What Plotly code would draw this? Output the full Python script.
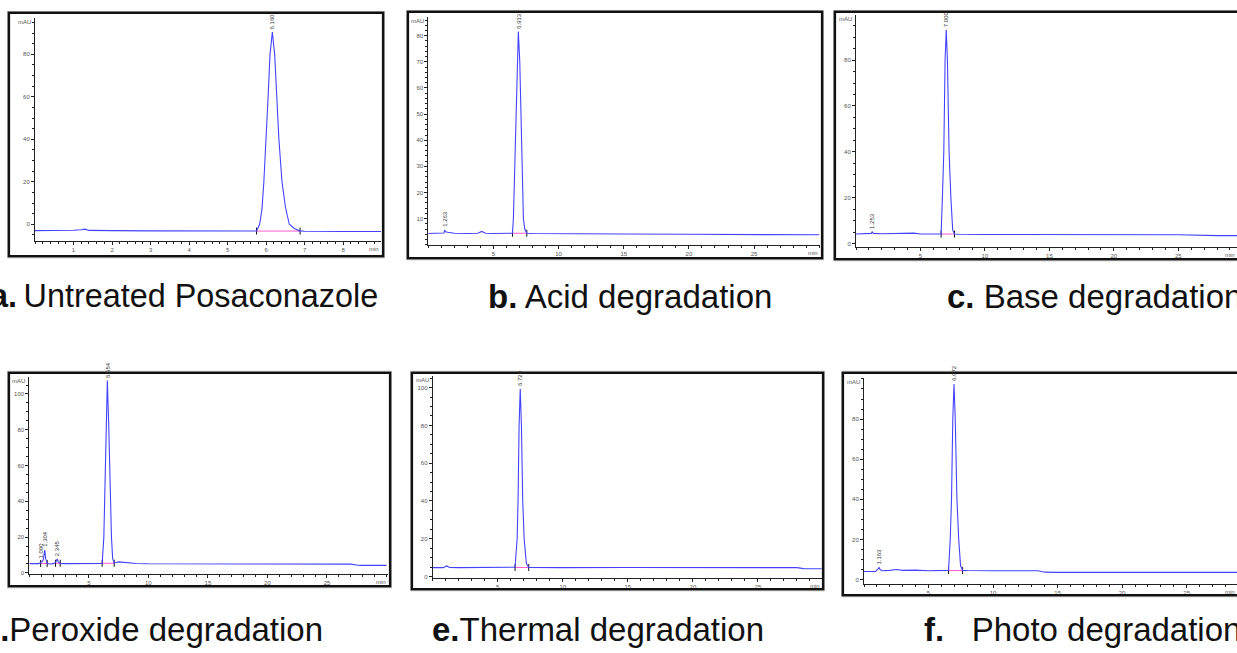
import plotly.graph_objects as go

W, H = 1237, 653

# ---------------- data ----------------
# a. Untreated Posaconazole
a_t = [0, 0.8, 1.0, 1.2, 1.3, 1.4, 1.6, 2.0, 3.0, 4.0, 5.0, 5.6, 5.75, 5.83, 5.89, 5.94, 6.0, 6.05, 6.10,
       6.16, 6.22, 6.27, 6.33, 6.41, 6.5, 6.6, 6.73, 6.87, 7.0, 8.0, 9.0]
a_y = [-3.0, -3.0, -2.8, -2.6, -2.3, -2.9, -3.0, -3.0, -3.1, -3.2, -3.3, -3.3, -3.2, 0, 7, 20, 40, 60, 80,
       90.5, 80, 60, 40, 20, 8, 0, -2, -3.1, -3.3, -3.4, -3.4]
# b. Acid degradation
b_t = [0, 1.0, 1.2, 1.26, 1.32, 1.5, 2.0, 3.0, 3.8, 4.1, 4.4, 5.0, 6.0, 6.46, 6.53, 6.6, 6.69, 6.82, 6.91,
       7.02, 7.15, 7.3, 7.4, 7.56, 8.0, 10, 15, 20, 25, 27, 28, 30]
b_y = [4.3, 4.3, 4.5, 5.6, 5.0, 4.8, 4.4, 4.3, 4.4, 5.1, 4.4, 4.3, 4.3, 4.4, 10, 24, 40, 70, 81.6,
       70, 40, 10, 6, 4.4, 4.3, 4.2, 4.1, 4.0, 4.0, 3.8, 3.8, 3.8]
# c. Base degradation
c_t = [0, 1.0, 1.2, 1.25, 1.35, 2, 3, 4, 4.5, 5, 6, 6.6, 6.7, 6.81, 6.91, 7.0, 7.09, 7.22, 7.36, 7.5, 7.64,
       8, 10, 15, 20, 25, 28, 29.6]
c_y = [4.3, 4.3, 4.6, 5.3, 4.6, 4.4, 4.6, 4.8, 4.7, 4.3, 4.2, 4.3, 20, 40, 80, 93.1, 80, 40, 20, 6, 4.3,
       4.2, 4.1, 4.1, 4.1, 4.0, 3.6, 3.6]
# d. Peroxide degradation
d_t = [0, 0.8, 0.95, 1.09, 1.18, 1.30, 1.38, 1.5, 1.7, 2.0, 2.2, 2.345, 2.45, 2.6, 3.0, 4, 5, 6.0, 6.12,
       6.26, 6.34, 6.45, 6.554, 6.68, 6.79, 6.9, 7.0, 7.13, 7.5, 8, 9, 10, 15, 20, 25, 27, 27.6, 28, 30]
d_y = [5.2, 5.2, 5.8, 6.5, 7.5, 12.8, 8, 5.4, 5.0, 5.2, 5.8, 7.8, 6.0, 5.3, 5.2, 5.1, 5.0, 5.0, 5.3,
       20, 40, 80, 107.5, 80, 40, 20, 8, 5.6, 6.2, 5.8, 5.3, 5.1, 5.0, 5.0, 5.0, 4.9, 4.3, 4.2, 4.2]
# e. Thermal degradation
e_t = [0, 0.8, 1.07, 1.3, 2, 4, 6, 6.33, 6.49, 6.56, 6.64, 6.729, 6.82, 6.92, 7.03, 7.2, 7.38, 8, 10,
       15, 20, 25, 28, 28.5, 30]
e_y = [4.7, 4.7, 5.6, 4.8, 4.7, 4.7, 4.7, 4.9, 20, 40, 80, 99.4, 80, 40, 20, 7, 4.8, 4.7, 4.7,
       4.8, 4.8, 4.8, 4.7, 4.2, 4.1]
# f. Photo degradation
f_t = [0, 0.9, 1.1, 1.163, 1.25, 1.4, 2, 2.5, 3, 4, 5, 6, 6.55, 6.68, 6.78, 6.88, 6.972, 7.07, 7.2, 7.34,
       7.48, 7.64, 8, 10, 13.5, 14, 15, 20, 25, 29]
f_y = [4.0, 4.1, 5.5, 6.0, 5.0, 4.4, 4.6, 5.0, 4.6, 4.7, 4.4, 4.4, 4.6, 20, 40, 80, 97.5, 80, 40, 20,
       7, 4.6, 4.5, 4.4, 4.4, 3.7, 3.6, 3.6, 3.6, 3.6]

# integration baselines (start, end, level)
a_base = [(5.75, 6.88, -3.2)]
b_base = [(6.46, 7.56, 4.4)]
c_base = [(6.6, 7.64, 4.3)]
d_base = [(0.95, 1.5, 5.3), (2.2, 2.6, 5.4), (6.12, 7.13, 5.4)]
e_base = [(6.33, 7.38, 4.8)]
f_base = [(6.55, 7.64, 4.5)]

# peak labels (retention time, apex)
a_peaks = [("6.160", 6.16, 90.5)]
b_peaks = [("1.263", 1.26, 5.6), ("6.913", 6.91, 81.6)]
c_peaks = [("1.253", 1.25, 5.3), ("7.000", 7.0, 93.1)]
d_peaks = [("1.090", 1.0, 6.5), ("1.304", 1.30, 12.8), ("2.345", 2.345, 7.8), ("6.554", 6.554, 107.5)]
e_peaks = [("6.729", 6.729, 99.4)]
f_peaks = [("1.163", 1.163, 6.0), ("6.972", 6.972, 97.5)]

titles = ["<b>a.</b>\u2009Untreated Posaconazole", "<b>b.</b> Acid degradation", "<b>c.</b> Base degradation",
          "<b>d.</b>Peroxide degradation", "<b>e.</b>Thermal degradation",
          "<b>f.</b>\u00a0\u00a0\u00a0Photo degradation"]
title_sizes = [32.4, 33, 33, 33, 33, 33]

# ---------------- layout geometry (pixels) ----------------
panels = [
    dict(t=a_t, y=a_y, base=a_base, peaks=a_peaks, box=(35, 381, 18.3, 242), xr=[0, 8.98], yr=[-8.0, 97.0],
         xt=list(range(1, 9)), xm=0.2, yt=[0, 20, 40, 60, 80], ym=5, frame=(9, 13, 383, 257)),
    dict(t=b_t, y=b_y, base=b_base, peaks=b_peaks, box=(428.3, 820, 16.7, 245.5), xr=[0, 30.06], yr=[0, 87.3],
         xt=[5, 10, 15, 20, 25], xm=1, yt=[10, 20, 30, 40, 50, 60, 70, 80], ym=2, frame=(408, 12, 822, 259)),
    dict(t=c_t, y=c_y, base=c_base, peaks=c_peaks, box=(856, 1237, 15, 247.3), xr=[0, 29.55], yr=[-1.13, 99.6],
         xt=[5, 10, 15, 20, 25], xm=1, yt=[0, 20, 40, 60, 80], ym=5, frame=(835, 12, 1250, 260)),
    dict(t=d_t, y=d_y, base=d_base, peaks=d_peaks, box=(29.3, 387.7, 378.3, 575.7), xr=[0, 30.1], yr=[-0.56, 109.4],
         xt=[5, 10, 15, 20, 25], xm=1, yt=[0, 20, 40, 60, 80, 100], ym=5, frame=(9, 374, 390, 588)),
    dict(t=e_t, y=e_y, base=e_base, peaks=e_peaks, box=(432.7, 821.7, 376.7, 579.3), xr=[0, 29.9], yr=[-0.53, 106.4],
         xt=[5, 10, 15, 20, 25], xm=1, yt=[0, 20, 40, 60, 80, 100], ym=5, frame=(412, 374, 823, 591)),
    dict(t=f_t, y=f_y, base=f_base, peaks=f_peaks, box=(864, 1237, 379.3, 586), xr=[0, 28.9], yr=[-2.3, 100.4],
         xt=[5, 10, 15, 20, 25], xm=1, yt=[0, 20, 40, 60, 80], ym=5, frame=(843, 374, 1250, 597)),
]

# title placement: (x px, anchor, y px center)
title_pos = [(380, "right", 297), (486, "left", 297), (945, "left", 297),
             (325, "right", 631), (430, "left", 631), (922, "left", 631)]


def px(x):
    return x / W


def py(y):
    return 1 - y / H


LINE = "#4343ff"
PINK = "#ff5acd"
TICKF = dict(family="Liberation Sans, Arial, sans-serif", size=6, color="#555555")

fig = go.Figure()
layout = dict(width=W, height=H, margin=dict(l=0, r=0, t=0, b=0), paper_bgcolor="white",
              plot_bgcolor="white", showlegend=False)
annotations = []
shapes = []

for i, p in enumerate(panels):
    n = "" if i == 0 else str(i + 1)
    xa, ya = "x" + n, "y" + n
    x0, x1, yt, yb = p["box"]
    layout["xaxis" + n] = dict(
        domain=[px(x0), px(x1)], range=p["xr"], anchor=ya, showline=True, linecolor="#222", linewidth=1,
        showgrid=False, zeroline=False, ticks="outside", ticklen=3, tickcolor="#222", tickwidth=1,
        tickmode="array", tickvals=p["xt"], ticktext=[str(v) for v in p["xt"]], tickfont=TICKF,
        minor=dict(dtick=p["xm"], tick0=0, ticks="outside", ticklen=2, tickcolor="#222"),
        fixedrange=True)
    layout["yaxis" + n] = dict(
        domain=[py(yb), py(yt)], range=p["yr"], anchor=xa, showline=True, linecolor="#222", linewidth=1,
        showgrid=False, zeroline=False, ticks="outside", ticklen=3, tickcolor="#222", tickwidth=1,
        tickmode="array", tickvals=p["yt"], ticktext=[str(v) for v in p["yt"]], tickfont=TICKF,
        minor=dict(dtick=p["ym"], tick0=0, ticks="outside", ticklen=2, tickcolor="#222"),
        fixedrange=True)

    for (s, e, lv) in p["base"]:
        fig.add_trace(go.Scatter(x=[s, e], y=[lv, lv], mode="lines", line=dict(color=PINK, width=1),
                                 xaxis=xa, yaxis=ya, hoverinfo="skip"))
        fig.add_trace(go.Scatter(x=[s, e], y=[lv, lv], mode="markers",
                                 marker=dict(symbol="line-ns", size=5, line=dict(color="#111", width=1)),
                                 xaxis=xa, yaxis=ya, hoverinfo="skip"))
    fig.add_trace(go.Scatter(x=p["t"], y=p["y"], mode="lines", line=dict(color=LINE, width=1.1),
                             xaxis=xa, yaxis=ya, name=titles[i]))
    for (lab, rt, ap) in p["peaks"]:
        annotations.append(dict(x=rt, y=ap, xref=xa, yref=ya, text=lab, showarrow=False, textangle=-90,
                                xanchor="center", yanchor="bottom", yshift=1,
                                font=dict(family="Liberation Sans, Arial, sans-serif", size=6, color="#333")))
    annotations.append(dict(x=px(x0 - 2), y=py(yt - 1), xref="paper", yref="paper", text="mAU",
                            showarrow=False, xanchor="right", yanchor="top", font=TICKF))
    annotations.append(dict(x=px(x1), y=py(yb + 3), xref="paper", yref="paper", text="min",
                            showarrow=False, xanchor="right", yanchor="top", font=TICKF))
    fx0, fy0, fx1, fy1 = p["frame"]
    shapes.append(dict(type="rect", xref="paper", yref="paper", x0=px(fx0 - 1.5), x1=px(fx1 + 1.5),
                       y0=py(fy1 + 1.5), y1=py(fy0 - 1.5), line=dict(color="#9a9a9a", width=1)))
    shapes.append(dict(type="rect", xref="paper", yref="paper", x0=px(fx0), x1=px(fx1),
                       y0=py(fy1), y1=py(fy0), line=dict(color="#111111", width=2.2)))
    tx, anc, ty = title_pos[i]
    annotations.append(dict(x=px(tx), y=py(ty), xref="paper", yref="paper", text=titles[i], showarrow=False,
                            xanchor=anc, yanchor="middle",
                            font=dict(family="Liberation Sans, Arial, Helvetica, sans-serif",
                                      size=title_sizes[i], color="#111111")))

layout["annotations"] = annotations
layout["shapes"] = shapes
fig.update_layout(**layout)
fig.write_html("out.html", config={"displayModeBar": False},
               post_script="document.body.style.margin='0';document.body.style.overflow='hidden';")
